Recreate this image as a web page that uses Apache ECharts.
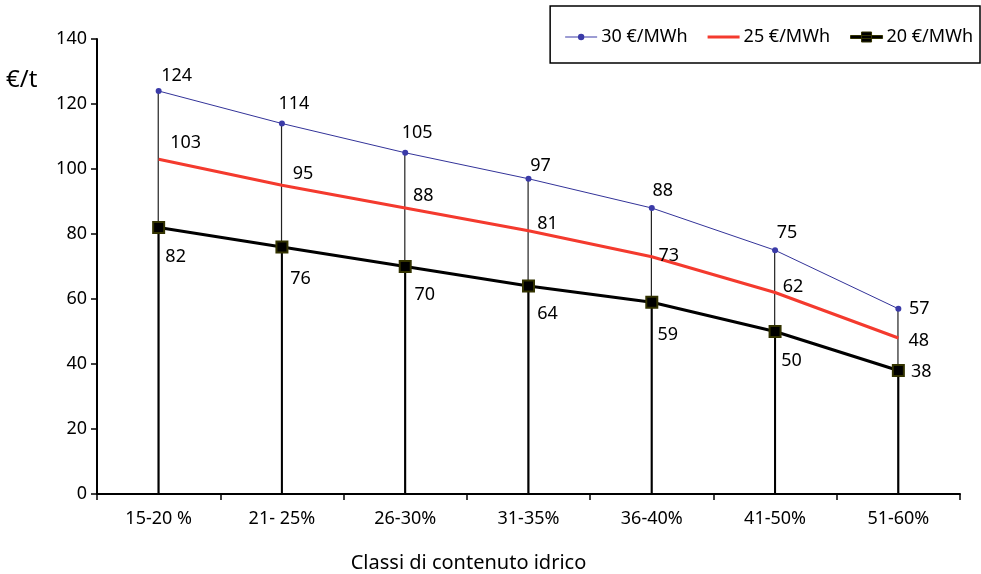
<!DOCTYPE html>
<html>
<head>
<meta charset="utf-8">
<script src="https://cdn.jsdelivr.net/npm/echarts@6/dist/echarts.min.js"></script>
<style>html,body{margin:0;padding:0;background:#fff}#c{width:981px;height:574px}</style>
</head>
<body>
<div id="c"></div>
<script>
const categories = ['15-20 %', '21- 25%', '26-30%', '31-35%', '36-40%', '41-50%', '51-60%'];
const price30 = [124, 114, 105, 97, 88, 75, 57];
const price25 = [103, 95, 88, 81, 73, 62, 48];
const price20 = [82, 76, 70, 64, 59, 50, 38];
const seriesNames = ['30 €/MWh', '25 €/MWh', '20 €/MWh'];
const yTicks = {min: 0, max: 140, interval: 20};

// label placement nudges (pixels, relative to each point) - styling only
const nudge30 = [[18, -16], [12, -20.5], [12, -21], [12, -14], [11, -18.5], [12, -18], [21, -1]];
const nudge25 = [[27, -17.5], [21, -12], [18, -13], [19, -8], [17, -2], [18, -6.5], [20.5, 1.5]];
const nudge20 = [[17, 28], [18.5, 31], [19.5, 27], [19, 27], [16, 32], [16.5, 28.5], [23, 0]];

const FONT = 'Noto Sans';
const FS = 18;

function withLabels(values, nudges) {
  return values.map((v, i) => ({
    value: v,
    label: {offset: [nudges[i][0], nudges[i][1] + 1]}
  }));
}

const lblBase = {show: true, position: 'inside', color: '#000', fontFamily: FONT, fontSize: FS};

const chart = echarts.init(document.getElementById('c'));
chart.setOption({
  animation: false,
  backgroundColor: '#fff',
  grid: {left: 97, right: 21, top: 39, bottom: 80, containLabel: false, outerBoundsMode: 'none'},
  legend: {
    data: [
      {name: seriesNames[0], icon: 'path://M0,4.45H32V5.55H0Z M12.8,5A3.2,3.2 0 1,1 19.2,5A3.2,3.2 0 1,1 12.8,5Z',
        itemStyle: {color: '#3b3ba8', borderWidth: 0}},
      {name: seriesNames[1], icon: 'path://M0,0H32V3H0Z', itemStyle: {color: '#f43a2e', borderWidth: 0}},
      {name: seriesNames[2], icon: 'path://M0,3.5H32V6.5H0Z M11,0H21V10H11Z', itemStyle: {color: '#000', borderColor: '#333300', borderWidth: 1}}
    ],
    right: 1, top: 6,
    padding: [22, 7, 17, 15],
    itemGap: 20,
    itemWidth: 32, itemHeight: 14,
    borderColor: '#000', borderWidth: 1.5,
    textStyle: {color: '#000', fontFamily: FONT, fontSize: FS, padding: [0, 0, 0, -1]}
  },
  xAxis: {
    type: 'category',
    data: categories,
    boundaryGap: true,
    axisLine: {lineStyle: {color: '#000', width: 2}},
    axisTick: {show: true, length: 6, lineStyle: {color: '#000', width: 1.5}},
    axisLabel: {color: '#000', fontFamily: FONT, fontSize: FS, margin: 16},
    splitLine: {show: false},
    name: 'Classi di contenuto idrico',
    nameLocation: 'middle',
    nameGap: 59,
    nameTextStyle: {color: '#000', fontFamily: FONT, fontSize: 20, padding: [0, 120, 0, 0]}
  },
  yAxis: {
    type: 'value',
    min: yTicks.min, max: yTicks.max, interval: yTicks.interval,
    axisLine: {show: true, lineStyle: {color: '#000', width: 2}},
    axisTick: {show: true, length: 6, lineStyle: {color: '#000', width: 1.5}},
    axisLabel: {color: '#000', fontFamily: FONT, fontSize: FS, margin: 10},
    splitLine: {show: false}
  },
  graphic: [{
    type: 'text', left: 6, top: 68,
    style: {text: '€/t', fill: '#000', font: '24px "Noto Sans"'}
  }],
  series: [
    {
      name: 'drop-upper', type: 'bar', data: price30, barWidth: 1.2, barGap: '-100%',
      itemStyle: {color: '#222'}, silent: true, z: 1
    },
    {
      name: 'drop-lower', type: 'bar', data: price20, barWidth: 2, barGap: '-100%',
      itemStyle: {color: '#000'}, silent: true, z: 1
    },
    {
      name: seriesNames[0], type: 'line',
      data: withLabels(price30, nudge30),
      symbol: 'circle', symbolSize: 6,
      lineStyle: {color: '#333399', width: 1},
      itemStyle: {color: '#3b3ba8'},
      label: lblBase,
      z: 5
    },
    {
      name: seriesNames[1], type: 'line',
      data: withLabels(price25, nudge25),
      symbol: 'circle', symbolSize: 0.01, showSymbol: true,
      lineStyle: {color: '#f43a2e', width: 3},
      itemStyle: {color: '#f43a2e'},
      label: lblBase,
      z: 4
    },
    {
      name: seriesNames[2], type: 'line',
      data: withLabels(price20, nudge20),
      symbol: 'rect', symbolSize: 11,
      lineStyle: {color: '#000', width: 3},
      itemStyle: {color: '#000', borderColor: '#333300', borderWidth: 2},
      label: lblBase,
      z: 6
    }
  ]
});
</script>
</body>
</html>
